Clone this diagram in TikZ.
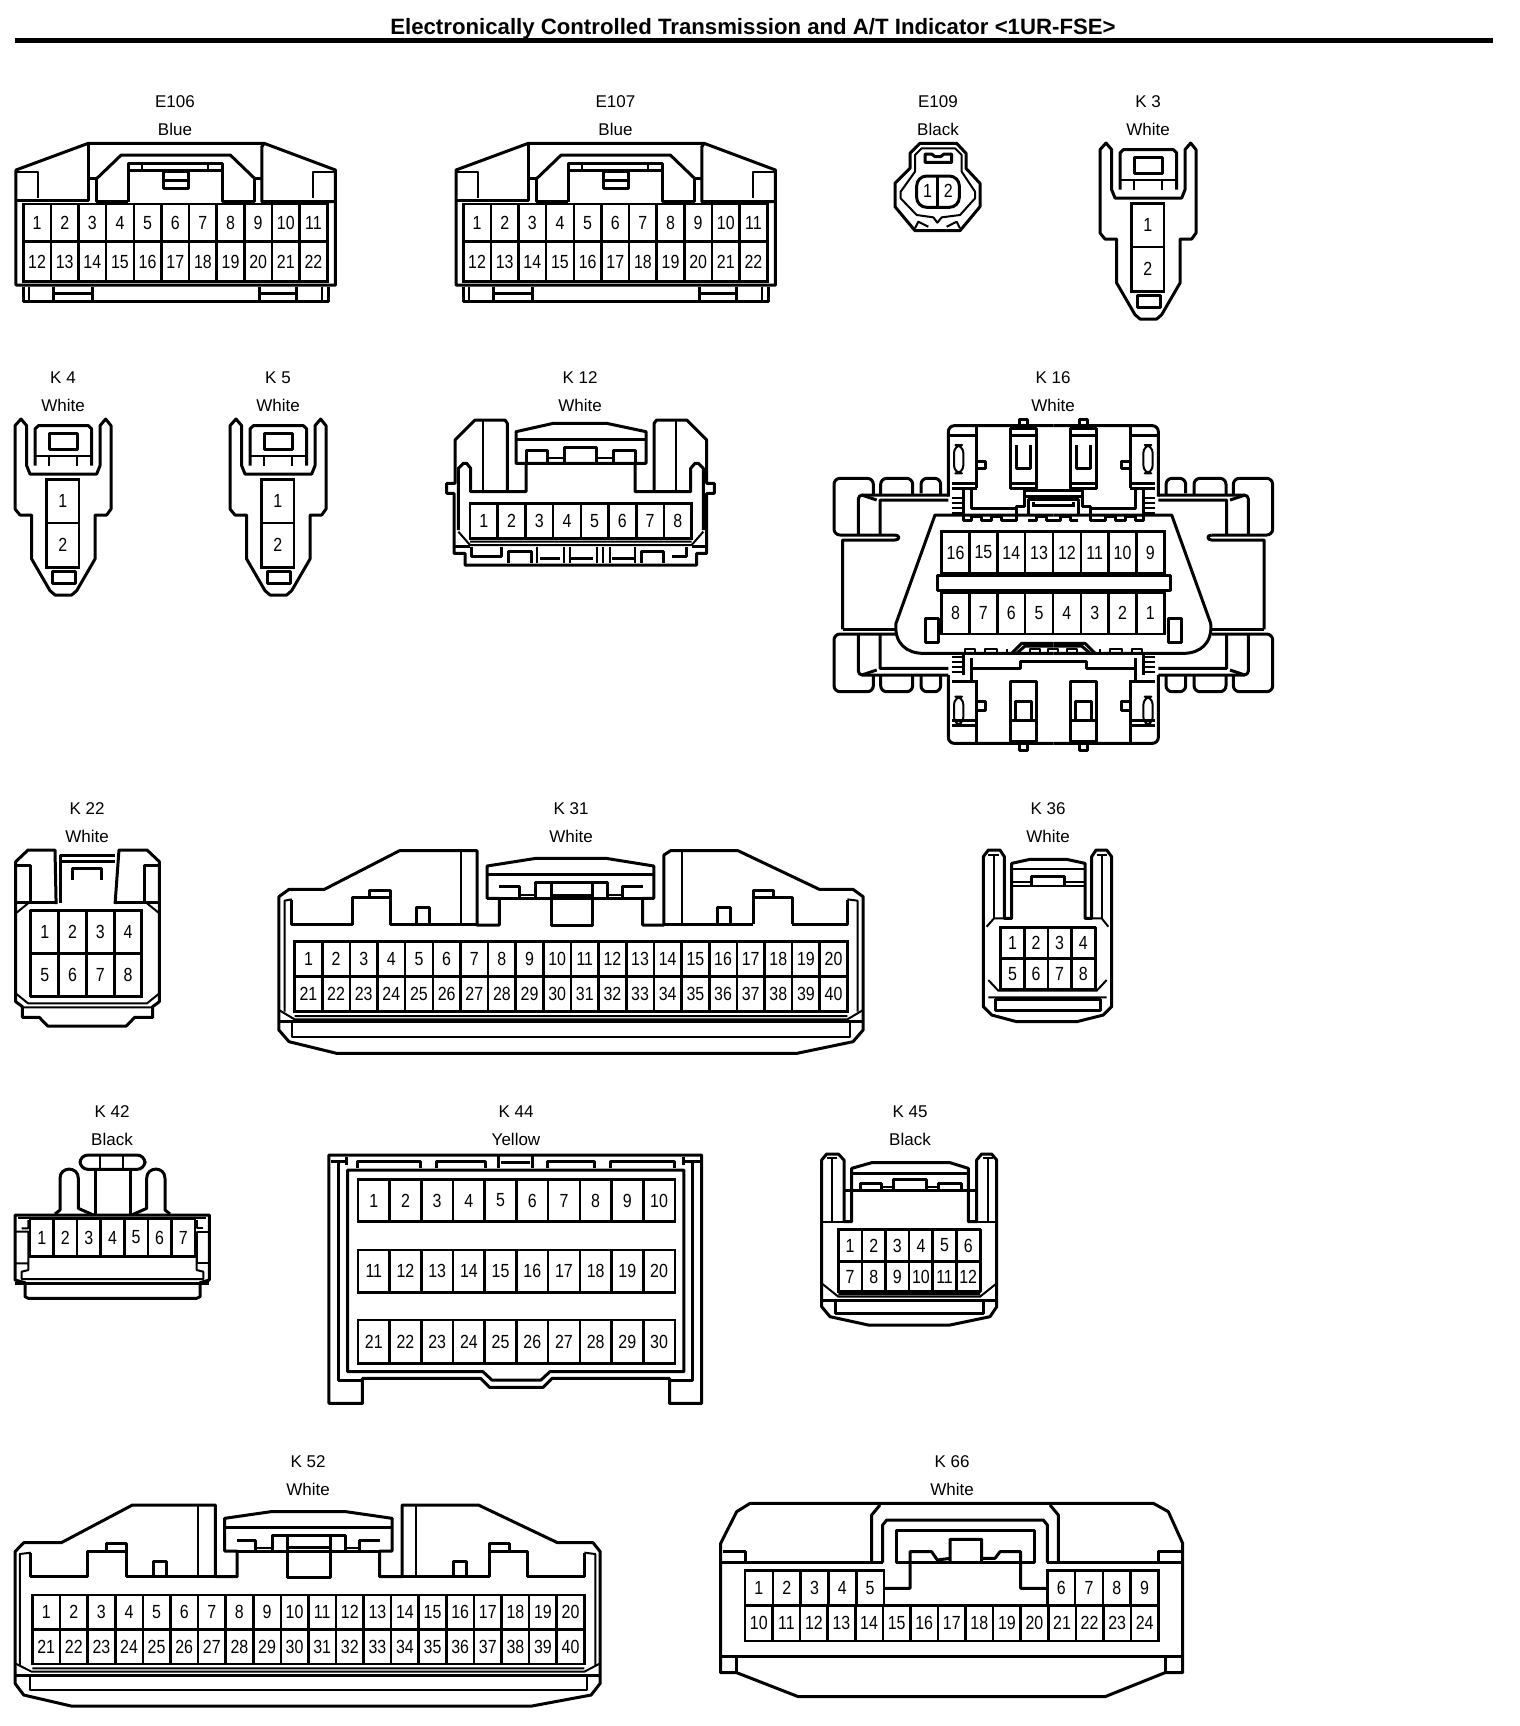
\documentclass[tikz,border=0pt]{standalone}
\usepackage{fontspec}
\setmainfont{Liberation Sans}
\newfontfamily\pinfont[FakeStretch=0.84]{Liberation Sans}
\tikzset{
  heavy/.style = {line width=1.5pt,line join=round},
  lightline/.style = {line width=1pt,line join=round},
  pinline/.style = {line width=1.3pt},
  pinnum/.style = {font=\pinfont\fontsize{9.5}{9.5}\selectfont,inner sep=0pt},
  labeltext/.style = {font=\fontsize{8.5}{8.5}\selectfont,inner sep=0pt},
  detail/.style n args = {3}{shift={(#1,#2)},x=#3pt,y=-0.16667pt}
}
% pins: prefix, x, y, dx, dy, numbers
\newcommand{\pinrow}[6]{\foreach \n [count=\c from 0] in {#6}
  \draw[pinline] ({#2+\c*#4},#3) rectangle node[pinnum] (#1-\n) {\n} ++(#4,#5);}
% name and colour over a housing
\newcommand{\conlabel}[5]{
  \node[labeltext] (#1-name) at (#2,#3-41.5) {#4};
  \node[labeltext] (#1-colour) at (#2,#3-14) {#5};}
% E106, E107
\newcommand{\bluehousing}[2]{
  \begin{scope}[detail={#2}{0}{0.2424}]
    \draw[heavy] (33,855) -- (33,510) -- (182,430) -- (545,430) -- (692,510) -- (692,855) -- cycle;
    \draw[heavy] (33,600) -- (182,600) -- (182,430);
    \draw[heavy] (182,535) -- (200,535) -- (200,605) -- (265,605);
    \draw[heavy] (200,535) -- (250,465) -- (475,465) -- (525,535);
    \draw[heavy] (265,605) -- (265,490) -- (458,490) -- (458,605) -- (525,605) -- (525,535) -- (540,535);
    \draw[heavy] (545,430) -- (540,440) -- (540,605) -- (692,605);
    \draw[heavy] (265,512) -- (458,512);
    \draw[lightline] (292,490) -- (292,512) (430,490) -- (430,512);
    \draw[heavy] (338,515) rectangle (388,565) (338,540) -- (388,540);
    \draw[lightline] (33,515) -- (78,515) -- (78,595) (692,515) -- (645,515) -- (645,595);
    \pinrow{#1}{48}{612}{57}{112}{1,...,11}
    \pinrow{#1}{48}{725}{57}{120}{12,...,22}
    \draw[heavy] (48,860) -- (48,905) -- (678,905) -- (678,860);
    \draw[lightline] (60,860) -- (60,900) (665,860) -- (665,900);
    \draw[heavy] (110,860) -- (110,900) (190,860) -- (190,900) (110,880) -- (190,880);
    \draw[heavy] (535,860) -- (535,900) (612,860) -- (612,900) (535,880) -- (612,880);
  \end{scope}}
% K3, K4, K5
\newcommand{\whiteplug}[3]{
  \begin{scope}[detail={#2-240}{#3-43.33}{0.16667}]
    \draw[heavy] (720,150) -- (720,400) -- (735,418) -- (770,418) -- (770,550) -- (825,645) -- (840,658) -- (890,658)
      -- (905,645) -- (960,550) -- (960,418) -- (995,418) -- (1008,400) -- (1008,150) -- (992,130) -- (975,150)
      -- (975,270) -- (965,295) -- (765,295) -- (755,270) -- (755,150) -- (738,130) -- cycle;
    \draw[heavy] (780,270) -- (780,160) -- (790,150) -- (940,150) -- (950,160) -- (950,270);
    \draw[lightline] (780,240) -- (950,240) (822,240) -- (822,270) (905,240) -- (905,270);
    \draw[heavy] (822,172) rectangle (908,222);
    \pinrow{#1}{815}{312}{97}{130}{1}
    \pinrow{#1}{815}{442}{97}{133}{2}
    \draw[heavy] (832,587) rectangle (900,622);
  \end{scope}}
\begin{document}
\begin{tikzpicture}[x=0.5pt,y=-0.5pt]
  \useasboundingbox (0,0) rectangle (1520,1726);
  \node[font=\bfseries\fontsize{11.1}{11.1}\selectfont,inner sep=0pt] (title) at (753,28.5)
    {Electronically Controlled Transmission and A/T Indicator <1UR-FSE>};
  \draw[line width=2.5pt] (14.5,40.3) -- (1493,40.3);

  \conlabel{E106}{175}{143}{E106}{Blue}
  \bluehousing{E106}{0}
  \conlabel{E107}{615.5}{143}{E107}{Blue}
  \bluehousing{E107}{440}

  \conlabel{E109}{938}{143}{E109}{Black}
  \begin{scope}[detail={860}{100}{0.16667}]
    \draw[heavy] (150,205) -- (150,160) -- (180,130) -- (290,130) -- (318,160) -- (318,205) -- (360,250) -- (360,320)
      -- (300,392) -- (165,392) -- (105,320) -- (105,250) -- cycle;
    \draw[lightline] (165,215) -- (165,165) -- (185,145) -- (285,145) -- (305,165) -- (305,215) -- (345,275) -- (345,295)
      -- (300,345) -- (245,352) -- (232,368) -- (220,352) -- (170,345) -- (122,295) -- (122,275) -- cycle;
    \draw[heavy] (195,162) -- (215,162) -- (225,170) -- (242,170) -- (252,162) -- (275,162) -- (275,187) -- (195,187) -- cycle;
    \draw[heavy,rounded corners=5pt] (170,228) rectangle (298,322);
    \draw[pinline] (232,228) -- (232,322);
    \node[pinnum] (E109-1) at (203,272) {1};
    \node[pinnum] (E109-2) at (265,272) {2};
    \draw[lightline] (165,385) -- (175,365) -- (205,380) (300,385) -- (290,365) -- (260,380);
  \end{scope}

  \conlabel{K3}{1148}{143}{K 3}{White}
  \whiteplug{K3}{1100}{143}
  \conlabel{K4}{63}{419}{K 4}{White}
  \whiteplug{K4}{15}{419}
  \conlabel{K5}{278}{419}{K 5}{White}
  \whiteplug{K5}{230}{419}

  \conlabel{K12}{580}{419}{K 12}{White}
  \begin{scope}[detail={430}{390}{0.16667}]
    \draw[heavy] (288,220) -- (288,305) -- (232,305) -- (232,100) -- (225,90) -- (135,90) -- (75,150) -- (75,280) -- (50,280) -- (50,310) -- (72,310)
      -- (72,490) -- (105,490) -- (105,525) -- (800,525) -- (800,490) -- (830,490) -- (830,310) -- (853,310) -- (853,280) -- (830,280)
      -- (830,150) -- (770,90) -- (680,90) -- (672,100) -- (672,305) -- (615,305) -- (615,220);
    \draw[lightline] (160,90) -- (160,305) (738,90) -- (738,305);
    \draw[heavy] (258,125) -- (370,100) -- (530,100) -- (648,125) -- (648,220) -- (258,220) -- cycle;
    \draw[heavy] (258,148) -- (648,148);
    \draw[heavy] (288,220) -- (288,182) -- (352,182) -- (352,218) (402,218) -- (402,172) -- (500,172) -- (500,218)
      (550,218) -- (550,182) -- (615,182) -- (615,220);
    \draw[lightline] (352,205) -- (402,205) (500,205) -- (550,205);
    \draw[heavy] (85,420) -- (85,235) -- (100,220) -- (110,220) -- (122,235) -- (122,305) -- (232,305);
    \draw[heavy] (820,420) -- (820,235) -- (805,220) -- (795,220) -- (782,235) -- (782,305) -- (672,305);
    \pinrow{K12}{120}{340}{83.1}{105}{1,...,8}
    \draw[lightline] (120,455) -- (785,455) (85,425) -- (120,465) -- (785,465) -- (820,425);
    \draw[heavy] (72,470) -- (120,470) (785,470) -- (830,470);
    \draw[heavy] (125,470) -- (125,500) -- (215,500) -- (215,470) (770,470) -- (770,500) -- (725,500);
    \draw[heavy] (235,518) -- (235,485) -- (305,485) -- (305,518) (635,518) -- (635,485) -- (700,485) -- (700,518);
    \draw[lightline] (320,470) -- (320,518) (402,470) -- (402,518) (420,470) -- (420,518) (500,470) -- (500,518)
      (520,470) -- (520,518) (540,470) -- (540,518) (615,470) -- (615,518);
    \draw[heavy] (330,505) -- (390,505) (420,505) -- (490,505) (545,505) -- (612,505);
  \end{scope}

  \conlabel{K16}{1053}{419}{K 16}{White}
  \begin{scope}[detail={820}{360}{0.16667}]
    \foreach \s in {1,-1} {
      \begin{scope}[shift={(700,0)},xscale=\s]
        % side wings
        \draw[heavy] (-632,808) -- (-632,540) -- (-475,540) .. controls (-460,540) and (-460,525) .. (-475,525);
        \draw[heavy,rounded corners=3pt] (-475,525) -- (-658,525) -- (-658,355) -- (-540,355) -- (-540,405);
        \draw[heavy,rounded corners=3pt] (-518,405) -- (-518,355) -- (-422,355) -- (-422,405) (-397,400) -- (-397,355) -- (-338,355) -- (-338,405);
        \draw[heavy,rounded corners=2pt] (-585,525) -- (-585,405) -- (-315,405);
        \draw[heavy] (-520,525) -- (-520,420) -- (-315,420) (-575,405) -- (-530,420);
        \draw[heavy] (-632,808) -- (-475,808);
        \draw[heavy,rounded corners=3pt] (-475,822) -- (-658,822) -- (-658,995) -- (-540,995) -- (-540,945);
        \draw[heavy,rounded corners=3pt] (-518,945) -- (-518,995) -- (-422,995) -- (-422,945) (-397,945) -- (-397,995) -- (-338,995) -- (-338,945);
        \draw[heavy,rounded corners=2pt] (-585,822) -- (-585,945) -- (-315,945);
        \draw[heavy] (-520,822) -- (-520,925) -- (-315,925) (-575,945) -- (-530,930);
        % body
        \draw[heavy] (0,465) -- (-355,465) -- (-472,790) .. controls (-478,850) and (-440,880) .. (-390,880) -- (0,880);
        \draw[heavy] (-270,465) -- (-270,482) -- (-245,482) -- (-245,468) -- (-215,468) -- (-215,482) -- (-185,482)
          -- (-185,468) -- (-155,468) -- (-155,482) -- (-110,482) -- (-110,468);
        \draw[heavy] (-75,482) -- (-50,482) -- (-50,468) -- (-20,468) -- (-20,482) -- (0,482);
        \draw[heavy] (-125,880) -- (-95,850) -- (0,850) (-110,880) -- (-85,858) -- (0,858);
        \draw[lightline] (-265,880) -- (-265,868) -- (-235,868) -- (-235,880) -- (-205,880) -- (-205,868) -- (-170,868) -- (-170,880) -- (-140,880) -- (-140,868);
        \draw[lightline] (-70,880) -- (-70,868) -- (-40,868) -- (-40,880) -- (-15,880) -- (-15,868) -- (0,868);
        % top housing
        \draw[heavy,rounded corners=3pt] (-315,410) -- (-315,197) -- (0,197);
        \draw[heavy] (-230,197) -- (-230,385) (-305,385) -- (-230,385) (-305,370) -- (-230,370) (-310,225) -- (-235,225);
        \draw[lightline,rounded corners=4pt] (-298,255) rectangle (-270,340);
        \draw[heavy] (-230,305) -- (-203,305) -- (-203,325) -- (-230,325);
        \draw[heavy] (-130,385) rectangle (-50,205) (-130,225) -- (-50,225);
        \draw[heavy] (-110,255) -- (-110,325) -- (-70,325) -- (-70,255);
        \draw[heavy] (-102,195) -- (-102,178) -- (-78,178) -- (-78,195);
        \draw[heavy] (-130,370) -- (-50,370) (-85,390) -- (0,390) (-85,408) -- (0,408) (-88,390) -- (-88,440) -- (-110,440) -- (-110,465);
        \draw[heavy] (-75,465) -- (-75,418) -- (0,418) (-60,440) -- (-60,425) (-60,437) -- (0,437);
        \draw[heavy] (-245,390) -- (-245,445) -- (-110,445);
        \draw[lightline] (-305,415) -- (-270,415) (-305,430) -- (-270,430) (-305,445) -- (-270,445) (-305,460) -- (-270,460);
        \draw[heavy] (-270,390) -- (-270,465);
        % bottom housing
        \draw[heavy,rounded corners=3pt] (-315,945) -- (-315,1150) -- (0,1150);
        \draw[heavy] (-230,960) -- (-230,1150) (-305,965) -- (-230,965) (-305,1080) -- (-230,1080) (-305,1095) -- (-230,1095);
        \draw[lightline,rounded corners=4pt] (-298,1010) rectangle (-270,1095);
        \draw[heavy] (-230,1025) -- (-203,1025) -- (-203,1050) -- (-230,1050);
        \draw[heavy] (-130,965) rectangle (-50,1145) (-130,1080) -- (-50,1080);
        \draw[heavy] (-115,1080) -- (-115,1025) -- (-65,1025) -- (-65,1080);
        \draw[heavy] (-102,1152) -- (-102,1170) -- (-78,1170) -- (-78,1152);
        \draw[heavy] (-245,895) -- (-245,960) (-245,925) -- (-100,925) -- (-100,905) -- (0,905);
        \draw[lightline] (-305,890) -- (-270,890) (-305,905) -- (-270,905) (-305,920) -- (-270,920) (-305,935) -- (-270,935);
        \draw[heavy] (-270,880) -- (-270,945);
        % key
        \draw[heavy] (-384,775) rectangle (-346,848);
      \end{scope}}
    \draw[heavy] (352,645) rectangle (1050,692);
    \pinrow{K16}{365}{515}{83.5}{125}{16,15,...,9}
    \pinrow{K16}{365}{697}{83.5}{125}{8,7,...,1}
  \end{scope}

  \conlabel{K22}{87}{850}{K 22}{White}
  \begin{scope}[detail={0}{780}{0.2806}]
    \draw[heavy] (100,372) -- (98,210) -- (50,210) -- (28,245) -- (28,665) -- (40,680) -- (40,712) -- (70,712) -- (85,738) -- (225,738) -- (240,712) -- (272,712) -- (272,680)
      -- (284,665) -- (284,245) -- (262,210) -- (212,210) -- (205,372);
    \draw[heavy] (108,370) -- (108,225) -- (205,225) (108,245) -- (205,245);
    \draw[heavy] (130,300) -- (130,265) -- (180,265) -- (180,300);
    \draw[heavy] (28,255) -- (55,255) -- (55,368) (284,255) -- (257,255) -- (257,368) (28,368) -- (100,368) (205,368) -- (284,368);
    \draw[lightline] (28,400) -- (50,370) (284,400) -- (262,370) (28,640) -- (50,670) -- (262,670) -- (284,640) (40,682) -- (272,682);
    \pinrow{K22}{55}{390}{49.5}{130}{1,...,4}
    \pinrow{K22}{55}{520}{49.5}{130}{5,...,8}
    \draw[heavy] (55,390) rectangle (253,650);
  \end{scope}

  \conlabel{K31}{571}{850}{K 31}{White}
  \begin{scope}[detail={0}{780}{0.2806}]
    \draw[heavy] (497,350) -- (515,328) -- (578,328) -- (712,212) -- (850,212) -- (850,435) -- (890,435) -- (890,355) -- (868,355)
      -- (868,258) -- (955,235) -- (1080,235) -- (1165,258) -- (1165,355) -- (1145,355) -- (1145,435) -- (1183,435) -- (1183,225)
      -- (1195,212) -- (1315,212) -- (1460,328) -- (1520,328) -- (1538,350) -- (1538,750) -- (1520,785) -- (1420,820) -- (600,820)
      -- (515,785) -- (497,750) -- cycle;
    \draw[lightline] (822,212) -- (822,432) (1215,212) -- (1215,432);
    \draw[lightline] (507,695) -- (507,362) -- (520,358) (1528,695) -- (1528,362) -- (1510,358);
    \draw[heavy] (868,282) -- (1165,282) (890,355) -- (1145,355);
    \draw[heavy] (890,320) -- (925,320) -- (925,350) (955,350) -- (955,308) -- (1083,308) -- (1083,350) (1110,350) -- (1110,320) -- (1145,320);
    \draw[lightline] (925,345) -- (955,345) (1083,345) -- (1110,345);
    \draw[heavy] (983,310) -- (983,435) -- (1055,435) -- (1055,310) (983,345) -- (1055,345);
    \draw[heavy] (520,360) -- (520,432) -- (628,432) -- (628,352) -- (695,352) -- (695,432) -- (850,432) (658,352) -- (658,330) -- (695,330) -- (695,352);
    \draw[heavy] (742,432) -- (742,382) -- (765,382) -- (765,432);
    \draw[heavy] (1183,432) -- (1342,432) (1278,432) -- (1278,382) -- (1302,382) -- (1302,432) (1342,432) -- (1342,352) -- (1412,352) -- (1412,432) (1342,352) -- (1342,330) -- (1378,330) -- (1378,352);
    \draw[heavy] (1412,432) -- (1510,432) -- (1510,360);
    \pinrow{K31}{525}{485}{49.25}{105}{1,...,20}
    \pinrow{K31}{525}{590}{49.25}{105}{21,...,40}
    \draw[lightline] (525,708) -- (1510,708) (497,690) -- (525,718) -- (1510,718) -- (1538,690);
    \draw[heavy] (497,725) -- (1538,725);
    \draw[lightline] (520,725) -- (520,772) -- (1515,772) -- (1515,725);
  \end{scope}

  \conlabel{K36}{1048}{850}{K 36}{White}
  \begin{scope}[detail={970}{800}{0.16667}]
    \draw[heavy] (40,170) -- (55,150) -- (90,150) -- (103,170) -- (103,355) -- (125,355) -- (125,190) -- (180,178) -- (290,178) -- (345,190) -- (345,355)
      -- (365,355) -- (365,170) -- (378,150) -- (410,150) -- (425,170) -- (425,620) -- (400,645) -- (320,665) -- (140,665) -- (65,645) -- (40,620) -- cycle;
    \draw[lightline] (125,208) -- (345,208) (125,245) -- (183,245) (283,245) -- (345,245) (125,258) -- (345,258);
    \draw[heavy] (183,258) -- (183,230) -- (283,230) -- (283,258);
    \draw[lightline] (55,165) -- (88,165) (72,165) -- (72,355) (380,165) -- (410,165) (395,165) -- (395,355);
    \draw[lightline] (50,380) -- (72,355) -- (125,355) (415,380) -- (395,355) -- (345,355);
    \pinrow{K36}{92}{382}{70.75}{93}{1,...,4}
    \pinrow{K36}{92}{475}{70.75}{93}{5,...,8}
    \draw[heavy] (92,382) rectangle (375,568);
    \draw[lightline] (55,540) -- (85,572) -- (380,572) -- (410,540) (55,592) -- (410,592);
    \draw[heavy] (75,597) rectangle (390,630);
  \end{scope}

  \conlabel{K42}{112}{1153}{K 42}{Black}
  \begin{scope}[detail={0}{1100}{0.16667}]
    \draw[heavy] (45,345) -- (45,540) -- (75,548) -- (75,590) -- (85,595) -- (590,595) -- (600,590) -- (600,548) -- (628,540) -- (628,345) -- cycle;
    \draw[heavy,rounded corners=4pt] (240,165) rectangle (435,208);
    \draw[lightline] (300,165) -- (300,205) (370,165) -- (370,205);
    \draw[heavy] (285,345) -- (285,205) (392,205) -- (392,345);
    \draw[heavy] (165,342) -- (180,330) -- (180,235) .. controls (180,198) and (235,198) .. (235,235) -- (235,325) -- (280,345);
    \draw[heavy] (395,345) -- (440,325) -- (440,235) .. controls (440,198) and (495,198) .. (495,235) -- (495,330) -- (510,342);
    \pinrow{K42}{90}{355}{70.7}{115}{1,...,7}
    \draw[lightline] (55,355) -- (618,355);
    \draw[lightline] (65,385) -- (85,385) -- (85,360) (45,395) -- (85,395) -- (85,490) -- (45,490) (85,470) -- (85,510) -- (65,515) -- (65,537) -- (610,537) -- (610,515) -- (590,510) -- (590,470);
    \draw[lightline] (610,385) -- (590,385) -- (590,360) (628,395) -- (590,395) -- (590,490) -- (628,490);
    \draw[heavy] (45,550) -- (628,550);
  \end{scope}

  \conlabel{K44}{516}{1153}{K 44}{Yellow}
  \begin{scope}[detail={320}{1100}{0.2232}]
    \draw[heavy] (20,165) -- (855,165) -- (855,910) -- (783,910) -- (783,835) -- (520,835) -- (500,862) -- (380,862) -- (360,835) -- (95,835) -- (95,910) -- (20,910) -- cycle;
    \draw[heavy] (835,190) -- (835,840) -- (783,840) (42,190) -- (42,840) -- (95,840);
    \draw[heavy] (62,210) -- (815,210) -- (815,815) -- (515,815) -- (495,840) -- (385,840) -- (365,815) -- (62,815) -- cycle;
    \draw[heavy] (25,185) -- (60,185) (60,170) -- (60,195) (815,185) -- (855,185) (815,170) -- (815,195);
    \draw[heavy] (85,205) -- (85,185) -- (225,185) -- (225,205) (260,205) -- (260,185) -- (370,185) -- (370,205);
    \draw[heavy] (400,165) -- (400,205) (475,165) -- (475,205) (405,188) -- (470,188);
    \draw[heavy] (510,205) -- (510,185) -- (615,185) -- (615,205) (650,205) -- (650,185) -- (795,185) -- (795,205);
    \pinrow{K44}{85}{238}{71}{127}{1,...,10}
    \pinrow{K44}{85}{450}{71}{127}{11,...,20}
    \pinrow{K44}{85}{660}{71}{130}{21,...,30}
  \end{scope}

  \conlabel{K45}{910}{1153}{K 45}{Black}
  \begin{scope}[detail={810}{1100}{0.16667}]
    \draw[heavy] (35,180) -- (50,162) -- (85,162) -- (102,180) -- (102,365) -- (125,365) -- (125,205) -- (185,188) -- (420,188) -- (475,205) -- (475,365) -- (500,365)
      -- (500,180) -- (515,162) -- (545,162) -- (560,180) -- (560,620) -- (540,650) -- (420,675) -- (175,675) -- (60,650) -- (35,620) -- cycle;
    \draw[heavy] (125,220) -- (475,220) (102,270) -- (500,270);
    \draw[heavy] (150,270) -- (150,250) -- (215,250) -- (215,270) (250,270) -- (250,238) -- (348,238) -- (348,270) (385,270) -- (385,250) -- (455,250) -- (455,270);
    \draw[lightline] (215,262) -- (250,262) (348,262) -- (385,262);
    \draw[lightline] (50,175) -- (80,175) (65,175) -- (65,365) (520,175) -- (548,175) (535,175) -- (535,365);
    \draw[lightline] (35,365) -- (102,365) (500,365) -- (560,365);
    \pinrow{K45}{85}{388}{70.83}{97}{1,...,6}
    \pinrow{K45}{85}{485}{70.83}{90}{7,...,12}
    \draw[heavy] (85,388) rectangle (510,575);
    \draw[lightline] (35,550) -- (85,590) -- (510,590) -- (560,550) (85,582) -- (510,582);
    \draw[heavy] (35,600) -- (560,600) (75,600) -- (75,640) -- (520,640) -- (520,600);
  \end{scope}

  \conlabel{K52}{308}{1503}{K 52}{White}
  \begin{scope}[detail={0}{1440}{0.1977}]
    \draw[heavy] (38,335) -- (60,308) -- (155,308) -- (335,195) -- (545,195) -- (545,410) -- (600,410) -- (600,333) -- (568,333) -- (568,235) -- (685,215) -- (875,215) -- (992,235)
      -- (992,333) -- (960,333) -- (960,410) -- (1017,410) -- (1017,195) -- (1210,195) -- (1410,308) -- (1500,308) -- (1518,335) -- (1518,730) -- (1495,765) -- (1345,798) -- (180,798)
      -- (60,765) -- (38,730) -- cycle;
    \draw[lightline] (500,195) -- (500,410) (1052,195) -- (1052,410);
    \draw[lightline] (50,675) -- (50,342) -- (78,338) (1506,675) -- (1506,342) -- (1478,338);
    \draw[heavy] (568,262) -- (992,262) (600,333) -- (960,333);
    \draw[heavy] (600,300) -- (645,300) -- (645,333) (688,333) -- (688,285) -- (875,285) -- (875,333) (910,333) -- (910,300) -- (962,300);
    \draw[lightline] (645,325) -- (688,325) (875,325) -- (910,325);
    \draw[heavy] (726,290) -- (726,412) -- (835,412) -- (835,290) (726,322) -- (835,322);
    \draw[heavy] (78,340) -- (78,410) -- (222,410) -- (222,335) -- (320,335) -- (320,410) -- (545,410) (270,335) -- (270,310) -- (320,310) -- (320,335);
    \draw[heavy] (388,410) -- (388,365) -- (422,365) -- (422,410);
    \draw[heavy] (1017,410) -- (1238,410) -- (1238,335) -- (1335,335) -- (1335,410) -- (1478,410) -- (1478,340) (1238,335) -- (1238,310) -- (1288,310) -- (1288,335);
    \draw[heavy] (1148,410) -- (1148,365) -- (1180,365) -- (1180,410);
    \pinrow{K52}{82}{465}{69.8}{103}{1,...,20}
    \pinrow{K52}{82}{568}{69.8}{104}{21,...,40}
    \draw[lightline] (82,685) -- (1478,685) (38,670) -- (80,695) -- (1478,695) -- (1518,670);
    \draw[heavy] (38,705) -- (1518,705);
    \draw[lightline] (75,705) -- (75,750) -- (1485,750) -- (1485,705);
  \end{scope}

  \conlabel{K66}{952}{1503}{K 66}{White}
  \begin{scope}[detail={700}{1440}{0.16667}]
    \draw[heavy] (62,310) -- (110,215) -- (150,190) -- (1360,190) -- (1405,215) -- (1448,310) -- (1448,698) -- (1395,698) -- (1215,770) -- (295,770) -- (110,698) -- (62,698) -- cycle;
    \draw[heavy] (515,365) -- (515,225) -- (540,195) (1050,195) -- (1075,225) -- (1075,365);
    \draw[heavy] (548,368) -- (548,255) -- (560,240) -- (1030,240) -- (1042,255) -- (1042,368);
    \draw[heavy] (62,368) -- (548,368) (1042,368) -- (1448,368);
    \draw[heavy] (590,368) rectangle (1003,272);
    \draw[heavy] (555,445) -- (630,445) -- (630,335) -- (695,335) -- (712,360) -- (750,355) (750,368) -- (750,298) -- (845,298) -- (845,368) (845,355) -- (885,355) -- (900,335) -- (962,335) -- (962,445) -- (1040,445);
    \draw[heavy] (68,335) -- (135,335) -- (135,368) (1375,368) -- (1375,335) -- (1445,335);
    \pinrow{K66}{135}{392}{83.4}{105}{1,...,5}
    \pinrow{K66}{1042}{392}{83.25}{105}{6,...,9}
    \pinrow{K66}{135}{497}{82.7}{106}{10,...,24}
    \draw[heavy] (62,650) -- (1448,650) (110,655) -- (110,698) (1395,655) -- (1395,698);
  \end{scope}
\end{tikzpicture}
\end{document}
